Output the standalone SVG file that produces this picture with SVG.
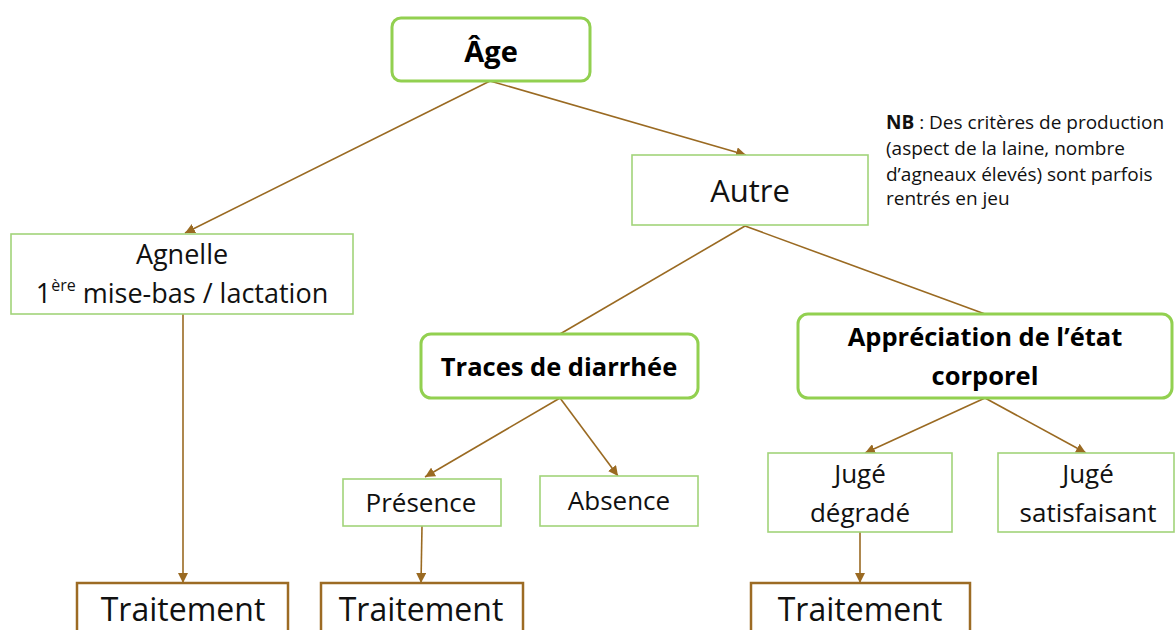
<svg xmlns="http://www.w3.org/2000/svg" width="1175" height="630" viewBox="0 0 1175 630">
  <defs>
    <marker id="arrow" viewBox="0 0 10 10" refX="10" refY="5" markerWidth="10" markerHeight="10" markerUnits="userSpaceOnUse" orient="auto">
      <path d="M0,0 L10,5 L0,10 Z" fill="#9a6a22"/>
    </marker>
    <style>
      .key { fill: #ffffff; stroke: #92d050; stroke-width: 3; }
      .opt { fill: #ffffff; stroke: #a2d47a; stroke-width: 1.6; }
      .act { fill: #ffffff; stroke: #9c6b24; stroke-width: 2.5; }
      .link { fill: none; stroke: #9a6a22; stroke-width: 1.6; }
      .arr { marker-end: url(#arrow); }
      text { font-family: "Open Sans", "Liberation Sans", sans-serif; fill: #111111; text-anchor: middle; }
      .bold { font-weight: bold; fill: #000000; }
      .note { text-anchor: start; font-size: 19px; }
    </style>
  </defs>

  <rect width="1175" height="630" fill="#ffffff"/>

  <!-- connectors -->
  <g id="connectors">
    <line class="link arr" x1="490" y1="81" x2="185" y2="233"/>
    <line class="link arr" x1="490" y1="81" x2="746" y2="155"/>
    <line class="link arr" x1="183" y1="314" x2="183" y2="583"/>
    <line class="link" x1="745" y1="226" x2="560" y2="334"/>
    <line class="link" x1="745" y1="226" x2="985" y2="314"/>
    <line class="link arr" x1="560" y1="398" x2="425" y2="477"/>
    <line class="link arr" x1="560" y1="398" x2="618" y2="476"/>
    <line class="link arr" x1="422" y1="526" x2="421" y2="583"/>
    <line class="link arr" x1="985" y1="398" x2="865" y2="453"/>
    <line class="link arr" x1="985" y1="398" x2="1086" y2="453"/>
    <line class="link arr" x1="860" y1="532" x2="860" y2="583"/>
  </g>

  <g id="age">
    <rect class="key" x="392" y="18" width="198" height="63" rx="9"/>
    <text class="bold" x="491" y="62" font-size="29">Âge</text>
  </g>

  <g id="agnelle">
    <rect class="opt" x="11" y="234" width="342" height="80"/>
    <text x="182" y="264" font-size="27">Agnelle</text>
    <text x="182" y="303" font-size="27">1<tspan font-size="16" dy="-12">ère</tspan><tspan dy="12"> mise-bas / lactation</tspan></text>
  </g>

  <g id="autre">
    <rect class="opt" x="632" y="155" width="236" height="70"/>
    <text x="750" y="202" font-size="31">Autre</text>
  </g>

  <g id="note">
    <text class="note" x="886" y="129"><tspan font-weight="bold">NB</tspan> : Des critères de production</text>
    <text class="note" x="886" y="155">(aspect de la laine, nombre</text>
    <text class="note" x="886" y="181">d’agneaux élevés) sont parfois</text>
    <text class="note" x="886" y="205">rentrés en jeu</text>
  </g>

  <g id="traces">
    <rect class="key" x="421" y="334" width="277" height="64" rx="10"/>
    <text class="bold" x="559" y="376" font-size="25.5">Traces de diarrhée</text>
  </g>

  <g id="appreciation">
    <rect class="key" x="798" y="314" width="374" height="84" rx="10"/>
    <text class="bold" x="985" y="346" font-size="25.5">Appréciation de l’état</text>
    <text class="bold" x="985" y="385" font-size="25.5">corporel</text>
  </g>

  <g id="presence">
    <rect class="opt" x="343" y="479" width="158" height="47"/>
    <text x="421" y="512" font-size="26">Présence</text>
  </g>

  <g id="absence">
    <rect class="opt" x="540" y="476" width="158" height="50"/>
    <text x="619" y="510" font-size="26">Absence</text>
  </g>

  <g id="juge-degrade">
    <rect class="opt" x="768" y="453" width="184" height="79"/>
    <text x="860" y="483" font-size="26">Jugé</text>
    <text x="860" y="522" font-size="26">dégradé</text>
  </g>

  <g id="juge-satisfaisant">
    <rect class="opt" x="998" y="453" width="176" height="79"/>
    <text x="1088" y="483" font-size="26">Jugé</text>
    <text x="1088" y="522" font-size="26">satisfaisant</text>
  </g>

  <g id="traitement-1">
    <rect class="act" x="77" y="583" width="211" height="60"/>
    <text x="183" y="621" font-size="32">Traitement</text>
  </g>

  <g id="traitement-2">
    <rect class="act" x="321" y="583" width="202" height="60"/>
    <text x="421" y="621" font-size="32">Traitement</text>
  </g>

  <g id="traitement-3">
    <rect class="act" x="751" y="583" width="219" height="60"/>
    <text x="860" y="621" font-size="32">Traitement</text>
  </g>
</svg>
